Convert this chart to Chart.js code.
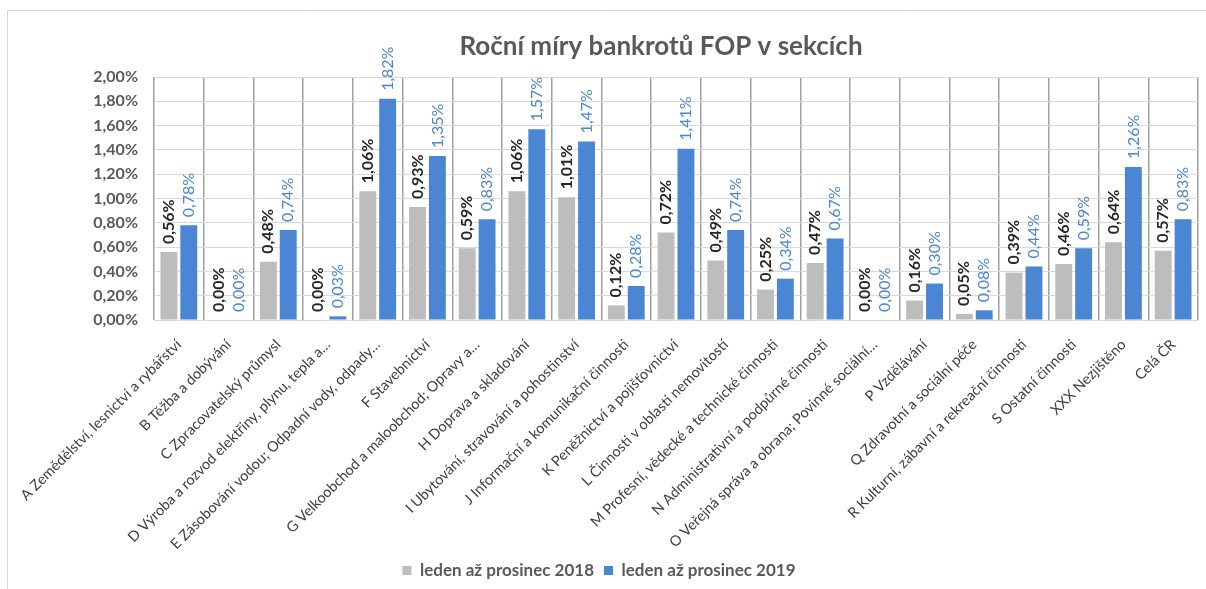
<!DOCTYPE html>
<html>
<head>
<meta charset="utf-8">
<script src="https://cdn.jsdelivr.net/npm/chart.js@4.4.0/dist/chart.umd.min.js"></script>
<style>
  body { margin: 0; background: #fff; }
  #wrap { width: 1206px; height: 589px; }
</style>
</head>
<body>
<div id="wrap"><canvas id="barChart" width="1206" height="589"></canvas></div>
<script>
// sekce (kategorie)
const categories = [
  'A Zemědělství, lesnictví a rybářství',
  'B Těžba a dobývání',
  'C Zpracovatelský průmysl',
  'D Výroba a rozvod elektřiny, plynu, tepla a…',
  'E Zásobování vodou; Odpadní vody, odpady…',
  'F Stavebnictví',
  'G Velkoobchod a maloobchod; Opravy a…',
  'H Doprava a skladování',
  'I Ubytování, stravování a pohostinství',
  'J Informační a komunikační činnosti',
  'K Peněžnictví a pojišťovnictví',
  'L Činnosti v oblasti nemovitostí',
  'M Profesní, vědecké a technické činnosti',
  'N Administrativní a podpůrné činnosti',
  'O Veřejná správa a obrana; Povinné sociální…',
  'P Vzdělávání',
  'Q Zdravotní a sociální péče',
  'R Kulturní, zábavní a rekreační činnosti',
  'S Ostatní činnosti',
  'XXX Nezjištěno',
  'Celá ČR'
];
const rates2018 = [0.56, 0.00, 0.48, 0.00, 1.06, 0.93, 0.59, 1.06, 1.01, 0.12, 0.72, 0.49, 0.25, 0.47, 0.00, 0.16, 0.05, 0.39, 0.46, 0.64, 0.57];
const rates2019 = [0.78, 0.00, 0.74, 0.03, 1.82, 1.35, 0.83, 1.57, 1.47, 0.28, 1.41, 0.74, 0.34, 0.67, 0.00, 0.30, 0.08, 0.44, 0.59, 1.26, 0.83];
const seriesNames = ['leden až prosinec 2018', 'leden až prosinec 2019'];
const yTicks = [0, 0.2, 0.4, 0.6, 0.8, 1.0, 1.2, 1.4, 1.6, 1.8, 2.0];

const FONT = 'Lato, "Open Sans", sans-serif';
const fmt = v => v.toFixed(2).replace('.', ',') + '%';

// ramecek a nadpis
const frame = {
  id: 'frame',
  beforeDraw(chart) {
    const c = chart.ctx;
    c.save();
    c.fillStyle = '#fff';
    c.fillRect(0, 0, chart.width, chart.height);
    c.strokeStyle = '#d9d9d9';
    c.lineWidth = 1;
    c.beginPath();
    c.moveTo(7.5, chart.height);
    c.lineTo(7.5, 10.5);
    c.lineTo(chart.width, 10.5);
    c.stroke();
    c.fillStyle = '#595959';
    c.font = 'bold 26px ' + FONT;
    c.textAlign = 'center';
    c.textBaseline = 'middle';
    c.fillText('Roční míry bankrotů FOP v sekcích', 661, 47);
    c.restore();
  }
};

// popisky hodnot nad sloupci
const valueLabels = {
  id: 'valueLabels',
  afterDatasetsDraw(chart) {
    const c = chart.ctx;
    chart.data.datasets.forEach((ds, i) => {
      const meta = chart.getDatasetMeta(i);
      meta.data.forEach((bar, j) => {
        c.save();
        c.translate(bar.x, bar.y - 8);
        c.rotate(-Math.PI / 2);
        c.font = (i === 0 ? 'bold ' : '') + '16px ' + FONT;
        c.fillStyle = i === 0 ? '#262626' : '#4a86d4';
        c.textAlign = 'left';
        c.textBaseline = 'middle';
        c.fillText(fmt(ds.data[j]), 0, 0);
        c.restore();
      });
    });
  }
};

new Chart(document.getElementById('barChart'), {
  type: 'bar',
  data: {
    labels: categories,
    datasets: [
      { label: seriesNames[0], data: rates2018, backgroundColor: '#bdbdbd' },
      { label: seriesNames[1], data: rates2019, backgroundColor: '#4a86d4' }
    ]
  },
  options: {
    responsive: false,
    animation: false,
    categoryPercentage: 0.8,
    barPercentage: 0.85,
    layout: { padding: { top: 77, right: 8, bottom: 0, left: 0 } },
    plugins: {
      title: { display: false },
      tooltip: { enabled: false },
      legend: {
        position: 'bottom',
        labels: {
          boxWidth: 9, boxHeight: 9, padding: 10,
          color: '#595959',
          font: { family: FONT, size: 17, weight: 'bold' }
        }
      }
    },
    scales: {
      x: {
        grid: { color: '#a0a0a0', lineWidth: 1.5, drawTicks: false },
        border: { color: '#d9d9d9' },
        ticks: {
          minRotation: 45, maxRotation: 45, autoSkip: false, padding: 16,
          color: '#404040',
          font: { family: FONT, size: 14.5 }
        },
        afterFit(scale) { scale.height = 232; }
      },
      y: {
        min: 0, max: 2,
        afterBuildTicks(scale) { scale.ticks = yTicks.map(v => ({ value: v })); },
        grid: { color: '#d9d9d9', drawTicks: false },
        border: { display: false },
        ticks: {
          padding: 16,
          color: '#595959',
          font: { family: FONT, size: 16, weight: 'bold' },
          callback: v => fmt(v)
        },
        afterFit(scale) { scale.width = 154; }
      }
    }
  },
  plugins: [frame, valueLabels]
});
</script>
</body>
</html>
